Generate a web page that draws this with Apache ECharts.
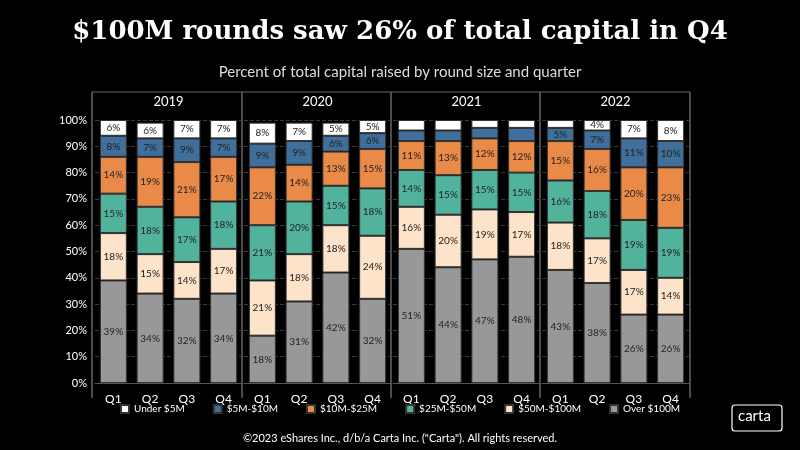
<!DOCTYPE html>
<html><head><meta charset="utf-8">
<script src="https://cdn.jsdelivr.net/npm/echarts@6/dist/echarts.min.js"></script>
<style>html,body{margin:0;background:#000}#c{width:800px;height:450px}</style>
</head><body><div id="c"></div>
<script>
const years = ['2019', '2020', '2021', '2022'];
const quarters = ['Q1', 'Q2', 'Q3', 'Q4'];
const seriesNames = ['Over $100M', '$50M-$100M', '$25M-$50M', '$10M-$25M', '$5M-$10M', 'Under $5M'];
const colors = ['#98989a', '#fde3c9', '#52b39c', '#e98a48', '#3f6f9a', '#ffffff'];
// values[series][year][quarter]
const over100 = [[39, 34, 32, 34], [18, 31, 42, 32], [51, 44, 47, 48], [43, 38, 26, 26]];
const m50to100 = [[18, 15, 14, 17], [21, 18, 18, 24], [16, 20, 19, 17], [18, 17, 17, 14]];
const m25to50 = [[15, 18, 17, 18], [21, 20, 15, 18], [14, 15, 15, 15], [16, 18, 19, 19]];
const m10to25 = [[14, 19, 21, 17], [22, 14, 13, 15], [11, 13, 12, 12], [15, 16, 20, 23]];
const m5to10 = [[8, 7, 9, 7], [9, 9, 6, 6], [4, 4, 4, 5], [5, 7, 11, 10]];
const under5 = [[6, 6, 7, 7], [8, 7, 5, 5], [4, 4, 3, 3], [3, 4, 7, 8]];
// 2021 small segments and 2022 Q1 under $5M carry no label in the source
const hiddenLabels = [[4, 2], [5, 2], [5, 3, 0]];
const values = [over100, m50to100, m25to50, m10to25, m5to10, under5];

const font = 'Lato';
const gridLefts = [95, 244, 393, 542];
const gridW = 147;
const grids = [], xAxes = [], yAxes = [], series = [];

years.forEach((y, yi) => {
  grids.push({ left: gridLefts[yi], width: gridW, top: 120, bottom: 67 });
  xAxes.push({
    type: 'category', gridIndex: yi, data: quarters,
    name: y, nameLocation: 'middle', nameGap: 0, position: 'top',
    nameTextStyle: { color: '#fff', fontFamily: font, fontSize: 13, padding: [0, 0, 12, 0] },
    axisLine: { show: false }, axisTick: { show: false },
    axisLabel: { show: false }
  });
  xAxes.push({
    type: 'category', gridIndex: yi, data: quarters, position: 'bottom',
    axisLine: { lineStyle: { color: '#555' } }, axisTick: { show: false },
    axisLabel: { color: '#fff', fontFamily: font, fontSize: 12, margin: 10 }
  });
  yAxes.push({
    type: 'value', gridIndex: yi, min: 0, max: 100, interval: 10,
    axisLabel: { show: yi === 0, color: '#fff', fontFamily: font, fontSize: 11, formatter: '{value}%', margin: 8 },
    splitLine: { lineStyle: { color: '#3a3a3a', type: 'dashed' } },
    axisLine: { show: false }, axisTick: { show: false }
  });
  seriesNames.forEach((n, si) => {
    series.push({
      name: n, type: 'bar', stack: 'y' + yi, xAxisIndex: yi * 2 + 1, yAxisIndex: yi,
      barWidth: 27,
      itemStyle: { color: colors[si], borderColor: '#333', borderWidth: 1 },
      label: { show: true, formatter: '{c}%', color: '#222', fontFamily: font, fontSize: 10 },
      data: values[si][yi].map((v, qi) => {
        const hide = hiddenLabels.some(h => h[0] === si && h[1] === yi && (h[2] === undefined || h[2] === qi));
        return hide ? { value: v, label: { show: false } } : v;
      })
    });
  });
});

const sep = x => ({ type: 'line', shape: { x1: x, y1: 92, x2: x, y2: 398 }, style: { stroke: '#666', lineWidth: 1.5 } });

const myChart = echarts.init(document.getElementById('c'));
myChart.setOption({
  backgroundColor: '#000',
  animation: false,
  title: [
    { text: '$100M rounds saw 26% of total capital in Q4', left: 'center', top: 14,
      textStyle: { color: '#fff', fontFamily: 'DejaVu Serif', fontWeight: 'bold', fontSize: 26 } },
    { text: 'Percent of total capital raised by round size and quarter', left: 'center', top: 60,
      textStyle: { color: '#ddd', fontFamily: font, fontWeight: 'normal', fontSize: 15 } },
    { text: '©2023 eShares Inc., d/b/a Carta Inc. ("Carta"). All rights reserved.', left: 'center', top: 428,
      textStyle: { color: '#fff', fontFamily: font, fontWeight: 'normal', fontSize: 11 } }
  ],
  legend: {
    bottom: 31, left: 'center', itemWidth: 8, itemHeight: 8, itemGap: 28, icon: 'rect',
    data: seriesNames.slice().reverse(),
    textStyle: { color: '#fff', fontFamily: font, fontSize: 10 }
  },
  graphic: [
    { type: 'line', shape: { x1: 92, y1: 92, x2: 690, y2: 92 }, style: { stroke: '#666', lineWidth: 1 } },
    sep(92), sep(242), sep(391), sep(540), sep(690),
    { type: 'rect', shape: { x: 732, y: 405, width: 50, height: 26, r: 3 }, style: { fill: 'none', stroke: '#fff', lineWidth: 1.2 } },
    { type: 'text', left: 738, top: 409, style: { text: 'carta', fill: '#fff', font: '15px Lato' } }
  ],
  grid: grids, xAxis: xAxes, yAxis: yAxes, series
});
</script></body></html>
